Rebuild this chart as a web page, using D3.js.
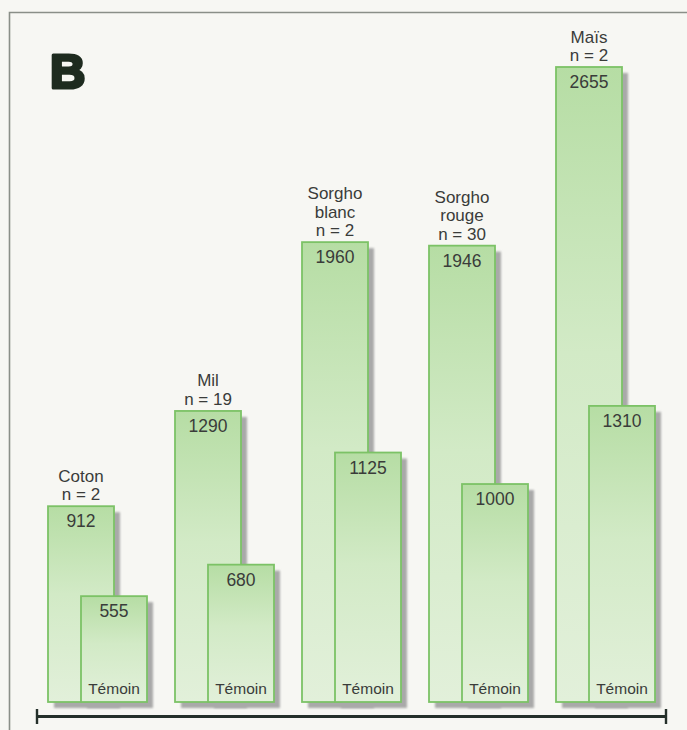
<!DOCTYPE html>
<html>
<head>
<meta charset="utf-8">
<script src="https://cdn.jsdelivr.net/npm/d3@7"></script>
<style>
  html, body { margin: 0; padding: 0; background: #f7f7f3; }
  svg { display: block; }
</style>
</head>
<body>
<svg id="chart" width="687" height="730"></svg>
<script>
// Rendements (kg/ha) : culture traitée vs témoin
const crops = ["Coton", "Mil", "Sorgho blanc", "Sorgho rouge", "Maïs"];
const labelLines = [["Coton", "n = 2"], ["Mil", "n = 19"], ["Sorgho", "blanc", "n = 2"], ["Sorgho", "rouge", "n = 30"], ["Maïs", "n = 2"]];
const treated = [912, 1290, 1960, 1946, 2655];
const control = [555, 680, 1125, 1000, 1310];
const controlLabel = "Témoin";
const panelLetter = "B";

const svg = d3.select("#chart");
const W = 687, H = 730;
const FONT = "Liberation Sans, Arial, Helvetica, sans-serif";
const TEXT = "#3a3c3a";

const defs = svg.append("defs");
const grad = defs.append("linearGradient")
  .attr("id", "barFill").attr("x1", 0).attr("y1", 0).attr("x2", 0).attr("y2", 1);
grad.append("stop").attr("offset", "0%").attr("stop-color", "#b6dda4");
grad.append("stop").attr("offset", "45%").attr("stop-color", "#d2eac6");
grad.append("stop").attr("offset", "100%").attr("stop-color", "#e2f0da");
const blur = defs.append("filter").attr("id", "soft").attr("x", "-10%").attr("y", "-10%").attr("width", "130%").attr("height", "130%");
blur.append("feGaussianBlur").attr("stdDeviation", 1.2);

// panel frame
svg.append("path")
  .attr("d", `M9.5,${H} L9.5,12.5 L${W},12.5`)
  .attr("fill", "none").attr("stroke", "#8a8f88").attr("stroke-width", 1.6);

// scales
const x = d3.scaleBand().domain(crops).range([48, 683]).paddingInner(0).paddingOuter(0);
const y = d3.scaleLinear().domain([0, 2655]).range([736, 67]);
const baseY = 702;
const barW = 66;
const ctrlOffset = 33;
const shadow = 6;

const groups = svg.append("g").selectAll("g.crop").data(crops).join("g").attr("class", "crop");

function drawBar(sel, xPos, value) {
  sel.append("rect")
    .attr("x", xPos + shadow).attr("y", y(value) + shadow)
    .attr("width", barW).attr("height", baseY - y(value))
    .attr("fill", "#a9a9a9").attr("filter", "url(#soft)");
  sel.append("rect")
    .attr("x", xPos).attr("y", y(value))
    .attr("width", barW).attr("height", baseY - y(value))
    .attr("fill", "url(#barFill)").attr("stroke", "#7cc266").attr("stroke-width", 1.8);
  sel.append("text")
    .attr("x", xPos + barW / 2).attr("y", y(value) + 21)
    .attr("text-anchor", "middle")
    .attr("font-family", FONT)
    .attr("font-size", 17.5).attr("fill", TEXT)
    .text(value);
}

groups.each(function (c, i) {
  const sel = d3.select(this);
  const x0 = x(c);
  drawBar(sel, x0, treated[i]);
  drawBar(sel, x0 + ctrlOffset, control[i]);
  sel.append("text")
    .attr("x", x0 + ctrlOffset + barW / 2).attr("y", baseY - 8)
    .attr("text-anchor", "middle")
    .attr("font-family", FONT)
    .attr("font-size", 15.5).attr("fill", TEXT)
    .text(controlLabel);
  const lines = labelLines[i];
  const top = y(treated[i]);
  const t = sel.append("text")
    .attr("text-anchor", "middle")
    .attr("font-family", FONT)
    .attr("font-size", 17).attr("fill", TEXT);
  lines.forEach((ln, k) => {
    t.append("tspan")
      .attr("x", x0 + barW / 2)
      .attr("y", top - 6 - (lines.length - 1 - k) * 18.5)
      .text(ln);
  });
});

// baseline rule with end caps
const axisG = svg.append("g").attr("stroke", "#25302a").attr("fill", "none");
axisG.append("line").attr("x1", 37).attr("x2", 666).attr("y1", 716.5).attr("y2", 716.5).attr("stroke-width", 3.2);
axisG.append("line").attr("x1", 37).attr("x2", 37).attr("y1", 709).attr("y2", 724).attr("stroke-width", 2.4);
axisG.append("line").attr("x1", 666).attr("x2", 666).attr("y1", 709).attr("y2", 724).attr("stroke-width", 2.4);

// panel letter
svg.append("text")
  .attr("x", 50).attr("y", 88)
  .attr("font-family", FONT)
  .attr("font-weight", 900).attr("font-size", 49)
  .attr("fill", "#1e2b1f").attr("stroke", "#1e2b1f").attr("stroke-width", 3.2)
  .attr("stroke-linejoin", "round")
  .text(panelLetter);
</script>
</body>
</html>
